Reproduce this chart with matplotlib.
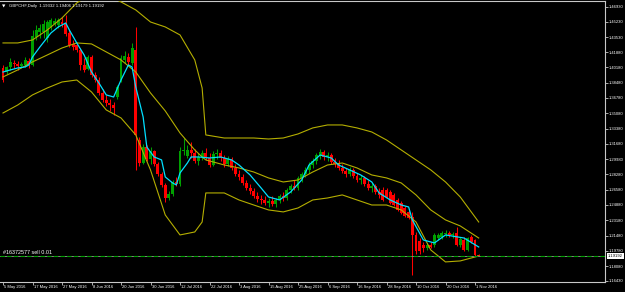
import matplotlib
matplotlib.use('Agg')
import matplotlib.pyplot as plt
from matplotlib.transforms import blended_transform_factory

plt.rcParams['font.family'] = ['Liberation Sans', 'DejaVu Sans']

# ── Data: GBPCHF daily bars, 5 May 2016 .. 2 Nov 2016 ─────────────────────────
date_labels = ['5 May 2016', '17 May 2016', '27 May 2016', '8 Jun 2016', '20 Jun 2016',
               '30 Jun 2016', '12 Jul 2016', '22 Jul 2016', '3 Aug 2016', '15 Aug 2016',
               '25 Aug 2016', '6 Sep 2016', '16 Sep 2016', '28 Sep 2016', '10 Oct 2016',
               '20 Oct 2016', '1 Nov 2016']
date_bars = [0, 8, 16, 24, 32, 40, 48, 56, 64, 72, 80, 88, 96, 104, 112, 120, 128]

opens = [
    1.4012, 1.3967, 1.4023, 1.4067, 1.4056, 1.4034, 1.4045, 1.4089, 1.4045, 1.4356,
    1.4412, 1.4412, 1.4345, 1.4468, 1.4501, 1.4490, 1.4523, 1.4501, 1.4401, 1.4279,
    1.4268, 1.4212, 1.4045, 1.4001, 1.4134, 1.3934, 1.3878, 1.3734, 1.3656, 1.3623,
    1.3600, 1.3690, 1.3878, 1.4101, 1.4134, 1.4067, 1.4212, 1.3211, 1.2955, 1.3133,
    1.3000, 1.3089, 1.2944, 1.2833, 1.2711, 1.2566, 1.2611, 1.2744, 1.2722, 1.3089,
    1.3033, 1.3100, 1.3067, 1.2978, 1.3022, 1.3067, 1.3011, 1.2933, 1.3056, 1.3067,
    1.3011, 1.2944, 1.3000, 1.2900, 1.2833, 1.2800, 1.2733, 1.2677, 1.2644, 1.2589,
    1.2555, 1.2544, 1.2511, 1.2533, 1.2500, 1.2544, 1.2588, 1.2566, 1.2655, 1.2700,
    1.2677, 1.2789, 1.2833, 1.2877, 1.2933, 1.2978, 1.3044, 1.3078, 1.3022, 1.3044,
    1.2966, 1.2944, 1.2900, 1.2866, 1.2833, 1.2877, 1.2811, 1.2766, 1.2789, 1.2722,
    1.2677, 1.2700, 1.2633, 1.2655, 1.2655, 1.2633, 1.2600, 1.2544, 1.2511, 1.2455,
    1.2411, 1.2355, 1.2155, 1.2088, 1.2044, 1.2010, 1.2044, 1.2044, 1.2121, 1.2133,
    1.2166, 1.2177, 1.2155, 1.2177, 1.2044, 1.2099, 1.1988, 1.2133, 1.2099, 1.19332]
highs = [
    1.4045, 1.4034, 1.4123, 1.4101, 1.4089, 1.4078, 1.4134, 1.4123, 1.4434, 1.4490,
    1.4501, 1.4546, 1.4546, 1.4568, 1.4568, 1.4568, 1.4579, 1.4601, 1.4434, 1.4323,
    1.4301, 1.4234, 1.4123, 1.4156, 1.4156, 1.3967, 1.3912, 1.3778, 1.3712, 1.3667,
    1.3634, 1.3823, 1.4156, 1.4200, 1.4180, 1.4290, 1.4468, 1.3244, 1.3167, 1.3156,
    1.3133, 1.3100, 1.2966, 1.2855, 1.2733, 1.2644, 1.2766, 1.2800, 1.3133, 1.3233,
    1.3156, 1.3189, 1.3111, 1.3067, 1.3100, 1.3122, 1.3067, 1.3089, 1.3111, 1.3100,
    1.3044, 1.3033, 1.3022, 1.2944, 1.2877, 1.2833, 1.2766, 1.2722, 1.2677, 1.2633,
    1.2600, 1.2588, 1.2566, 1.2588, 1.2566, 1.2611, 1.2633, 1.2677, 1.2722, 1.2766,
    1.2811, 1.2855, 1.2911, 1.2966, 1.3011, 1.3067, 1.3111, 1.3100, 1.3078, 1.3067,
    1.3011, 1.2989, 1.2944, 1.2900, 1.2911, 1.2900, 1.2844, 1.2822, 1.2811, 1.2766,
    1.2733, 1.2722, 1.2677, 1.2688, 1.2677, 1.2655, 1.2622, 1.2566, 1.2533, 1.2477,
    1.2433, 1.2410, 1.2188, 1.2121, 1.2077, 1.2066, 1.2077, 1.2177, 1.2177, 1.2199,
    1.2210, 1.2199, 1.2188, 1.2244, 1.2133, 1.2133, 1.2133, 1.2155, 1.2110, 1.19406]
lows = [
    1.3856, 1.3945, 1.3990, 1.4012, 1.3990, 1.4012, 1.4023, 1.4012, 1.4034, 1.4323,
    1.4345, 1.4345, 1.4301, 1.4434, 1.4479, 1.4456, 1.4468, 1.4367, 1.4245, 1.4212,
    1.4190, 1.3990, 1.3967, 1.3990, 1.3912, 1.3856, 1.3712, 1.3634, 1.3589, 1.3534,
    1.3489, 1.3667, 1.3856, 1.4067, 1.4045, 1.4045, 1.2878, 1.2922, 1.2944, 1.2978,
    1.2944, 1.2922, 1.2811, 1.2689, 1.2522, 1.2544, 1.2589, 1.2700, 1.2700, 1.3044,
    1.3011, 1.3011, 1.2955, 1.2933, 1.2989, 1.2989, 1.2911, 1.2922, 1.3000, 1.2978,
    1.2911, 1.2922, 1.2877, 1.2811, 1.2766, 1.2711, 1.2655, 1.2611, 1.2566, 1.2522,
    1.2500, 1.2488, 1.2466, 1.2477, 1.2466, 1.2511, 1.2533, 1.2544, 1.2622, 1.2655,
    1.2655, 1.2744, 1.2800, 1.2844, 1.2900, 1.2944, 1.3000, 1.2989, 1.2978, 1.2944,
    1.2911, 1.2877, 1.2844, 1.2800, 1.2811, 1.2788, 1.2744, 1.2722, 1.2700, 1.2655,
    1.2633, 1.2611, 1.2566, 1.2533, 1.2566, 1.2500, 1.2477, 1.2422, 1.2388, 1.2355,
    1.2333, 1.1710, 1.1944, 1.1944, 1.1966, 1.1988, 1.2010, 1.2022, 1.2099, 1.2110,
    1.2133, 1.2133, 1.2121, 1.2033, 1.2022, 1.1977, 1.1977, 1.2066, 1.1920, 1.19179]
closes = [
    1.3878, 1.4023, 1.4078, 1.4056, 1.4034, 1.4056, 1.4101, 1.4045, 1.4367, 1.4434,
    1.4456, 1.4501, 1.4523, 1.4546, 1.4534, 1.4546, 1.4501, 1.4390, 1.4268, 1.4245,
    1.4212, 1.4045, 1.3990, 1.4134, 1.3934, 1.3878, 1.3734, 1.3656, 1.3623, 1.3600,
    1.3567, 1.3800, 1.4123, 1.4145, 1.4078, 1.4234, 1.3267, 1.2955, 1.3133, 1.3000,
    1.3089, 1.2944, 1.2833, 1.2711, 1.2566, 1.2611, 1.2744, 1.2722, 1.3089, 1.3100,
    1.3100, 1.3067, 1.2978, 1.3022, 1.3067, 1.3011, 1.2933, 1.3056, 1.3067, 1.3011,
    1.2944, 1.3000, 1.2900, 1.2833, 1.2800, 1.2733, 1.2677, 1.2644, 1.2589, 1.2555,
    1.2544, 1.2511, 1.2533, 1.2500, 1.2544, 1.2588, 1.2566, 1.2655, 1.2700, 1.2677,
    1.2789, 1.2833, 1.2877, 1.2933, 1.2978, 1.3044, 1.3078, 1.3022, 1.3044, 1.2966,
    1.2944, 1.2900, 1.2866, 1.2833, 1.2877, 1.2811, 1.2766, 1.2789, 1.2722, 1.2677,
    1.2700, 1.2633, 1.2600, 1.2544, 1.2577, 1.2511, 1.2488, 1.2433, 1.2399, 1.2366,
    1.2344, 1.2155, 1.1977, 1.1977, 1.2010, 1.2044, 1.2022, 1.2155, 1.2155, 1.2177,
    1.2177, 1.2155, 1.2166, 1.2044, 1.2110, 1.1988, 1.2121, 1.2077, 1.1933, 1.19192]

# Bollinger bands at these bars
band_bars = [0, 4, 8, 12, 16, 20, 24, 28, 32, 36, 40, 44, 48, 52, 54, 55, 60,
             64, 68, 72, 76, 80, 84, 88, 92, 96, 100, 104, 108, 112, 116, 120, 124, 129]
band_upper = [1.4290, 1.4290, 1.4323, 1.4434, 1.4568, 1.4735, 1.4835, 1.4824, 1.4746,
              1.4657, 1.4523, 1.4468, 1.4379, 1.4101, 1.3789, 1.3267, 1.3233, 1.3233,
              1.3233, 1.3222, 1.3233, 1.3278, 1.3345, 1.3378, 1.3378, 1.3345, 1.3300,
              1.3211, 1.3100, 1.2989, 1.2878, 1.2744, 1.2577, 1.2299]
band_middle = [1.3912, 1.3990, 1.4079, 1.4156, 1.4234, 1.4290, 1.4279, 1.4190, 1.4101,
               1.3967, 1.3734, 1.3534, 1.3289, 1.3100, 1.3022, 1.2989, 1.2933, 1.2900,
               1.2855, 1.2789, 1.2744, 1.2766, 1.2855, 1.2933, 1.2955, 1.2900, 1.2822,
               1.2789, 1.2733, 1.2600, 1.2433, 1.2322, 1.2255, 1.2121]
band_lower = [1.3511, 1.3600, 1.3712, 1.3789, 1.3856, 1.3878, 1.3745, 1.3545, 1.3456,
              1.3267, 1.2878, 1.2377, 1.2155, 1.2188, 1.2299, 1.2622, 1.2622, 1.2544,
              1.2488, 1.2433, 1.2411, 1.2455, 1.2544, 1.2566, 1.2600, 1.2544, 1.2488,
              1.2488, 1.2433, 1.2299, 1.1988, 1.1855, 1.1866, 1.1921]

# fast moving average (cyan)
ma_bars = [0, 2, 4, 6, 7, 8, 10, 13, 15, 17, 18, 20, 22, 24, 26, 28, 30, 32, 34, 35,
           36, 38, 39, 41, 43, 44, 46, 47, 48, 50, 51, 53, 56, 59, 62, 64, 67, 70, 72, 75,
           78, 81, 83, 86, 89, 91, 94, 97, 100, 102, 105, 108, 110, 111, 114, 117, 120, 125, 129]
ma_values = [1.3967, 1.3990, 1.4012, 1.4023, 1.4045, 1.4134, 1.4245, 1.4401, 1.4468, 1.4512,
             1.4434, 1.4290, 1.4156, 1.3967, 1.3845, 1.3712, 1.3689, 1.3878, 1.4045, 1.4023,
             1.3801, 1.3467, 1.3133, 1.3022, 1.2989, 1.2800, 1.2733, 1.2711, 1.2844, 1.2955,
             1.3022, 1.3022, 1.3011, 1.3022, 1.2989, 1.2933, 1.2822, 1.2677, 1.2577, 1.2544,
             1.2633, 1.2766, 1.2933, 1.3044, 1.3011, 1.2933, 1.2878, 1.2822, 1.2744, 1.2622,
             1.2544, 1.2488, 1.2466, 1.2322, 1.2099, 1.2066, 1.2155, 1.2121, 1.2021]

price_ticks = [1.4693, 1.4523, 1.4353, 1.4188, 1.4018, 1.3848, 1.3678, 1.3508, 1.3338,
               1.3168, 1.2998, 1.2828, 1.2658, 1.2488, 1.2318, 1.2148, 1.1978, 1.1808, 1.1643]
last_price = 1.19192
order_price = 1.19192
header = 'GBPCHF,Daily  1.19332 1.19406 1.19179 1.19192'
order_text = '#16372577 sell 0.01'

BG = 'black'
FG = '#c8c8c8'
TXT = 'white'
BULL = '#00a000'
BEAR = '#ff0000'
BAND = '#b4ae00'
MA = '#00e0ff'
FS = 3.0

fig = plt.figure(figsize=(6.25, 2.92), dpi=100, facecolor=BG)
ax = fig.add_axes([0.0, 10 / 292, 605 / 625, 281 / 292], facecolor=BG)

# ── Candles ───────────────────────────────────────────────────────────────────
for i, (o, h, l, c) in enumerate(zip(opens, highs, lows, closes)):
    col = BULL if c >= o else BEAR
    ax.vlines(i, l, h, color=col, lw=0.75, zorder=2)
    body = max(abs(c - o), 0.0004)
    ax.bar(i, body, bottom=min(o, c), width=0.8, color=col, lw=0, zorder=3)

# ── Indicators ────────────────────────────────────────────────────────────────
for band in (band_upper, band_middle, band_lower):
    ax.plot(band_bars, band, color=BAND, lw=0.8, zorder=4)
ax.plot(ma_bars, ma_values, color=MA, lw=0.9, zorder=5)

# bid line + order line
ax.axhline(last_price, color='#808080', lw=0.7, zorder=5)
ax.axhline(order_price, color='#00a000', lw=0.8, ls=(0, (4, 2)), zorder=6)
ax.text(0.0, order_price + 0.0015, order_text, color=TXT, fontsize=3.9,
        va='bottom', ha='left')

ax.set_xlim(-0.8136, 163.25)
ax.set_ylim(1.16317, 1.47564)

# ── Axes styling ──────────────────────────────────────────────────────────────
ax.spines['left'].set_visible(False)
for side in ('right', 'bottom', 'top'):
    ax.spines[side].set_color(FG)
    ax.spines[side].set_linewidth(0.8)

ax.yaxis.tick_right()
ax.set_yticks(price_ticks)
ax.set_yticklabels([f'{p:.5f}' for p in price_ticks])
ax.tick_params(axis='y', colors=FG, labelcolor=TXT, labelsize=FS, length=2, width=0.6, pad=1)

ax.set_xticks(date_bars)
ax.set_xticklabels([])
ax.tick_params(axis='x', colors=FG, length=2.5, width=0.6)
trans = blended_transform_factory(ax.transData, ax.transAxes)
for b, lab in zip(date_bars, date_labels):
    ax.text(b + 0.3, -0.011, lab, transform=trans, color=TXT, fontsize=FS,
            ha='left', va='top')

# current price box
ax.text(1.0 + 3 / 605, last_price, f'{last_price:.5f}',
        transform=blended_transform_factory(ax.transAxes, ax.transData),
        color='black', fontsize=FS, ha='left', va='center',
        bbox=dict(boxstyle='square,pad=0.2', fc='white', ec='white', lw=0))

fig.text(2 / 625, 1 - 6 / 292, '\u25bc', color=TXT, fontsize=3.2, ha='left', va='center',
         family='DejaVu Sans')
fig.text(9 / 625, 1 - 6 / 292, header, color=TXT, fontsize=3.1, ha='left', va='center')

fig.savefig('out.png', dpi=100, facecolor=BG)
